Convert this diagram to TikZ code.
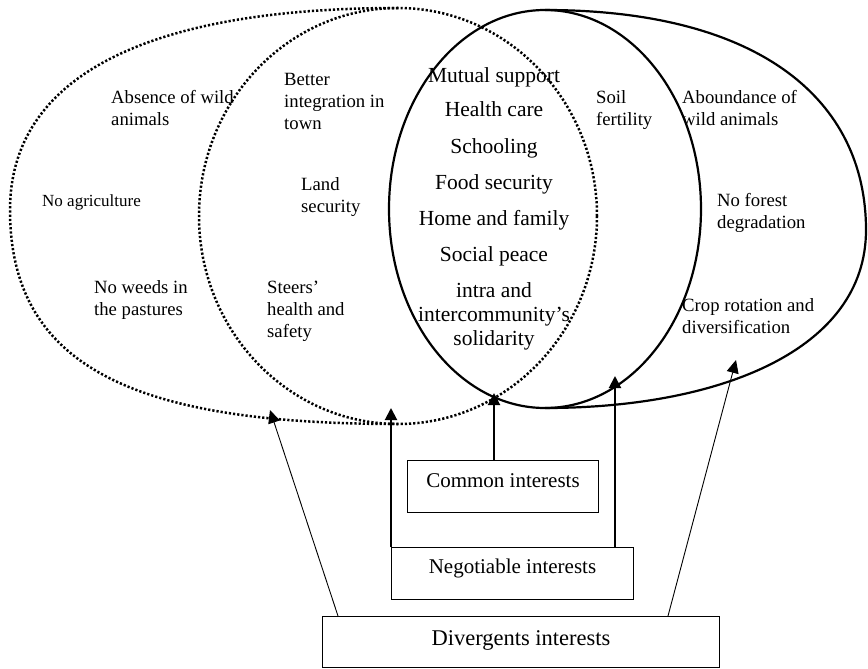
\documentclass[tikz,border=0pt]{standalone}
\usepackage{fontspec}
\setmainfont{Liberation Serif}
\usetikzlibrary{arrows.meta}
\begin{document}
\begin{tikzpicture}[x=1pt,y=-1pt,
  dotline/.style={line width=2.5pt, dash pattern=on 2.2pt off 2pt},
  solidline/.style={line width=2.2pt},
  side/.style={font=\fontsize{18.7}{22}\selectfont, align=left, inner sep=0pt, anchor=base west},
  mid/.style={font=\fontsize{21.5}{24}\selectfont, align=center, inner sep=0pt, anchor=base},
  boxn/.style={draw, line width=1pt, inner sep=0pt, anchor=north west},
  thickarrow/.style={line width=2pt, -{Triangle[length=12pt,width=12pt]}},
  thinarrow/.style={line width=0.9pt, -{Triangle[length=13pt,width=12pt]}}
]
\useasboundingbox (0,0) rectangle (868,669);

% dotted shapes
\draw[dotline] (398,216) ellipse [x radius=199pt, y radius=208pt];
\draw[dotline] (398,8) .. controls (140,8) and (10,80) .. (10,210)
                      .. controls (10,370) and (140,424) .. (398,424);
% solid shapes
\draw[solidline] (545,209) ellipse [x radius=156pt, y radius=199pt];
\draw[solidline] (545,10) .. controls (760,10) and (866,100) .. (866,230)
                        .. controls (866,350) and (720,408) .. (545,408);

% side texts (positions = baseline of the last line)
\node[side] (absence) at (111,125) {Absence of wild\\animals};
\node[side, font=\fontsize{17}{20}\selectfont] (noagri) at (42,206) {No agriculture};
\node[side] (noweeds) at (94,315) {No weeds in\\the pastures};
\node[side] (better) at (284,129) {Better\\integration in\\town};
\node[side] (land) at (301,212) {Land\\security};
\node[side] (steers) at (267,337) {Steers’\\health and\\safety};
\node[side] (soil) at (596,125) {Soil\\fertility};
\node[side] (abound) at (682,125) {Aboundance of\\wild animals};
\node[side] (noforest) at (717,228) {No forest\\degradation};
\node[side] (crop) at (682,333) {Crop rotation and\\diversification};

% middle list
\node[mid] (m1) at (494,82) {Mutual support};
\node[mid] (m2) at (494,117) {Health care};
\node[mid] (m3) at (494,153) {Schooling};
\node[mid] (m4) at (494,189) {Food security};
\node[mid] (m5) at (494,225) {Home and family};
\node[mid] (m6) at (494,261) {Social peace};
\node[mid] (m7) at (494,345) {intra and\\intercommunity’s\\solidarity};

% boxes
\node[boxn, minimum width=191pt, text height=27pt, text depth=25pt,
      font=\fontsize{21}{24}\selectfont] (common) at (407,460) {Common interests};
\node[boxn, minimum width=242pt, text height=26pt, text depth=26pt,
      font=\fontsize{21}{24}\selectfont] (neg) at (391,547) {Negotiable interests};
\node[boxn, minimum width=397pt, text height=29pt, text depth=22pt,
      font=\fontsize{22.5}{26}\selectfont] (div) at (322,616) {Divergents interests};

% arrow tips
\coordinate (tA) at (270,410);
\coordinate (tB) at (391,408);
\coordinate (tC) at (494,393);
\coordinate (tD) at (615,376);
\coordinate (tE) at (736,360);

\draw[thickarrow] (tC |- common.north) -- (tC);
\draw[thickarrow] (neg.north west) -- (tB);
\draw[thickarrow] (tD |- neg.north) -- (tD);
\draw[thinarrow] ([xshift=16pt]div.north west) -- (tA);
\draw[thinarrow] ([xshift=-52pt]div.north east) -- (tE);
\end{tikzpicture}
\end{document}
